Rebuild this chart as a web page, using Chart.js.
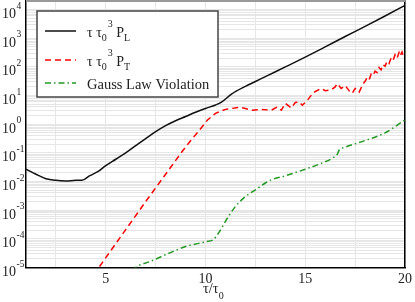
<!DOCTYPE html>
<html>
<head>
<meta charset="utf-8">
<script src="https://cdn.jsdelivr.net/npm/chart.js@4"></script>
<style>
  html, body { margin: 0; padding: 0; background: #fff; }
  canvas { display: block; }
</style>
</head>
<body>
<canvas id="chart" width="415" height="302"></canvas>
<script>
// tau tau0^3 P_L
const plX = [1, 1.5, 2, 2.5, 3, 3.5, 3.8, 4.2, 4.6, 5, 5.5, 6, 6.5, 7, 7.5, 8, 8.5, 9, 9.5, 10, 10.5, 10.8, 11.3, 12, 12.5, 13, 14, 15, 16, 17, 18, 19, 20];
const plY = [0.027, 0.018, 0.0126, 0.011, 0.0105, 0.011, 0.011, 0.016, 0.022, 0.036, 0.06, 0.1, 0.178, 0.316, 0.55, 0.89, 1.32, 1.86, 2.63, 3.55, 4.7, 5.9, 11.2, 21, 31, 46, 100, 220, 500, 1150, 2600, 6000, 14000];

// tau tau0^3 P_T
const ptX = [4.4, 5, 6, 7, 8, 8.8, 9.2, 9.7, 10.1, 10.5, 11, 11.7, 12, 12.3, 12.8, 13.3, 13.6, 13.8, 14, 14.3, 14.5, 14.7, 14.85, 15.1, 15.4, 15.8, 16, 16.3, 16.5, 16.6, 16.8, 17, 17.2, 17.35, 17.5, 17.7, 17.9, 18, 18.1, 18.2, 18.3, 18.4, 18.5, 18.6, 18.7, 18.8, 18.9, 19, 19.1, 19.2, 19.3, 19.4, 19.5, 19.6, 19.7, 19.75, 19.85, 19.9, 20];
const ptY = [5.6e-6, 2.2e-5, 2.1e-4, 2.0e-3, 0.018, 0.105, 0.24, 0.63, 1.41, 2.4, 3.3, 3.9, 3.55, 3.1, 3.3, 3.1, 4.0, 3.1, 5.4, 3.7, 5.75, 6.0, 4.6, 6.8, 12.6, 17.8, 14.8, 15.8, 20, 26, 17.8, 22.4, 14.8, 12, 17.8, 13.2, 26, 31.6, 41.7, 35.5, 56, 50, 71, 63, 95, 79, 120, 105, 158, 132, 200, 166, 263, 200, 316, 240, 331, 251, 229];

// Gauss law violation
const gaussX = [6.3, 6.6, 7.2, 8, 9, 10, 10.4, 10.7, 11, 11.5, 12, 12.5, 13, 13.3, 14, 15, 15.8, 16.4, 16.6, 16.7, 17, 18, 19, 20];
const gaussY = [7.9e-6, 1.12e-5, 1.6e-5, 2.8e-5, 5.4e-5, 7.9e-5, 9.5e-5, 1.8e-4, 4.1e-4, 1.35e-3, 3.0e-3, 5.1e-3, 8.9e-3, 0.0115, 0.0158, 0.027, 0.043, 0.068, 0.089, 0.126, 0.158, 0.27, 0.5, 1.41];

// axes
const xTickLabels = [5, 10, 15, 20];
const xGridLines = [2.5, 5, 7.5, 10, 12.5, 15, 17.5, 20];
const yExponents = [-5, -4, -3, -2, -1, 0, 1, 2, 3, 4];
const yMantissas = [1, 2, 3, 4, 5, 6, 7, 8, 9];

const SERIF = "'Liberation Serif', 'DejaVu Serif', serif";

const pts = (xs, ys) => xs.map((x, i) => ({ x: x, y: ys[i] }));

const yGridValues = [];
yExponents.forEach(e => yMantissas.forEach(m => yGridValues.push(m * Math.pow(10, e))));
yGridValues.push(1e4 * 2);

// draw a run of [text, shift, size] pieces
function drawParts(ctx, x, y, parts) {
    parts.forEach(p => {
        ctx.font = p[2] + 'px ' + SERIF;
        ctx.fillText(p[0], x, y + p[1]);
        x += ctx.measureText(p[0]).width;
    });
}

const extras = {
    id: 'extras',
    afterDraw(chart) {
        const ctx = chart.ctx;
        const area = chart.chartArea;
        const ys = chart.scales.y;
        ctx.save();

        // top frame line
        ctx.strokeStyle = '#999';
        ctx.lineWidth = 2;
        ctx.beginPath();
        ctx.moveTo(area.left, area.top);
        ctx.lineTo(area.right, area.top);
        ctx.stroke();

        // y tick labels 10^n
        ctx.fillStyle = '#222';
        ctx.textBaseline = 'alphabetic';
        yExponents.forEach(e => {
            const py = ys.getPixelForValue(Math.pow(10, e));
            ctx.font = '14px ' + SERIF;
            ctx.textAlign = 'right';
            ctx.fillText('10', 16, py + 8.5);
            ctx.font = '9.5px ' + SERIF;
            ctx.textAlign = 'left';
            ctx.fillText(String(e), 16.5, py - 1);
        });

        // x axis title
        ctx.textAlign = 'left';
        drawParts(ctx, 203, 293, [['τ/τ', 0, 14.5], ['0', 6, 10]]);

        // legend box
        const bx = 37, by = 11, bw = 181, bh = 86;
        ctx.fillStyle = '#fff';
        ctx.fillRect(bx, by, bw, bh);
        ctx.strokeStyle = '#444';
        ctx.lineWidth = 1.5;
        ctx.strokeRect(bx, by, bw, bh);

        const rows = [31, 60, 83];
        const labels = [
            [['τ τ', 0, 14], ['0', 4, 10], [' ', 0, 4], ['3', -10, 10], [' P', 0, 14], ['L', 4, 10]],
            [['τ τ', 0, 14], ['0', 4, 10], [' ', 0, 4], ['3', -10, 10], [' P', 0, 14], ['T', 4, 10]],
            [['Gauss Law Violation', 0, 14.5]]
        ];
        chart.data.datasets.forEach((ds, i) => {
            ctx.strokeStyle = ds.borderColor;
            ctx.lineWidth = ds.borderWidth;
            ctx.setLineDash(ds.borderDash || []);
            ctx.beginPath();
            ctx.moveTo(45, rows[i]);
            ctx.lineTo(76, rows[i]);
            ctx.stroke();
            ctx.setLineDash([]);
            ctx.fillStyle = '#222';
            drawParts(ctx, 87, rows[i] + 5.5, labels[i]);
        });
        ctx.restore();
    }
};

new Chart(document.getElementById('chart'), {
    type: 'line',
    data: {
        datasets: [
            { label: 'τ τ0^3 P_L', data: pts(plX, plY), borderColor: '#111', borderWidth: 1.5, borderDash: [], pointRadius: 0, tension: 0.3, cubicInterpolationMode: 'monotone' },
            { label: 'τ τ0^3 P_T', data: pts(ptX, ptY), borderColor: '#ff0000', borderWidth: 1.5, borderDash: [6, 4], pointRadius: 0, tension: 0 },
            { label: 'Gauss Law Violation', data: pts(gaussX, gaussY), borderColor: '#229922', borderWidth: 1.5, borderDash: [6, 3, 1.5, 3], pointRadius: 0, tension: 0.3, cubicInterpolationMode: 'monotone' }
        ]
    },
    options: {
        responsive: false,
        animation: false,
        layout: { padding: { top: 1, left: 0, right: 0, bottom: 0 } },
        plugins: { legend: { display: false }, tooltip: { enabled: false } },
        scales: {
            x: {
                type: 'linear',
                min: 1,
                max: 20,
                afterBuildTicks: s => { s.ticks = xGridLines.map(v => ({ value: v })); },
                afterFit: s => { s.height = 34.5; },
                grid: { color: '#e6e6e6', drawTicks: false },
                border: { color: '#000', width: 1.5 },
                ticks: {
                    autoSkip: false,
                    maxRotation: 0,
                    padding: 3,
                    color: '#222',
                    font: { family: SERIF, size: 14 },
                    callback: v => xTickLabels.includes(v) ? String(v) : ''
                }
            },
            y: {
                type: 'logarithmic',
                min: 1e-5,
                max: 2e4,
                afterBuildTicks: s => { s.ticks = yGridValues.map(v => ({ value: v })); },
                afterFit: s => { s.width = 26; },
                grid: { color: '#e6e6e6', drawTicks: false },
                border: { color: '#000', width: 1.5 },
                ticks: { display: false }
            },
            y2: {
                type: 'logarithmic',
                position: 'right',
                min: 1e-5,
                max: 2e4,
                afterFit: s => { s.width = 8; },
                grid: { drawOnChartArea: false, drawTicks: false },
                border: { color: '#000', width: 1.5 },
                ticks: { display: false }
            }
        }
    },
    plugins: [extras]
});
</script>
</body>
</html>
